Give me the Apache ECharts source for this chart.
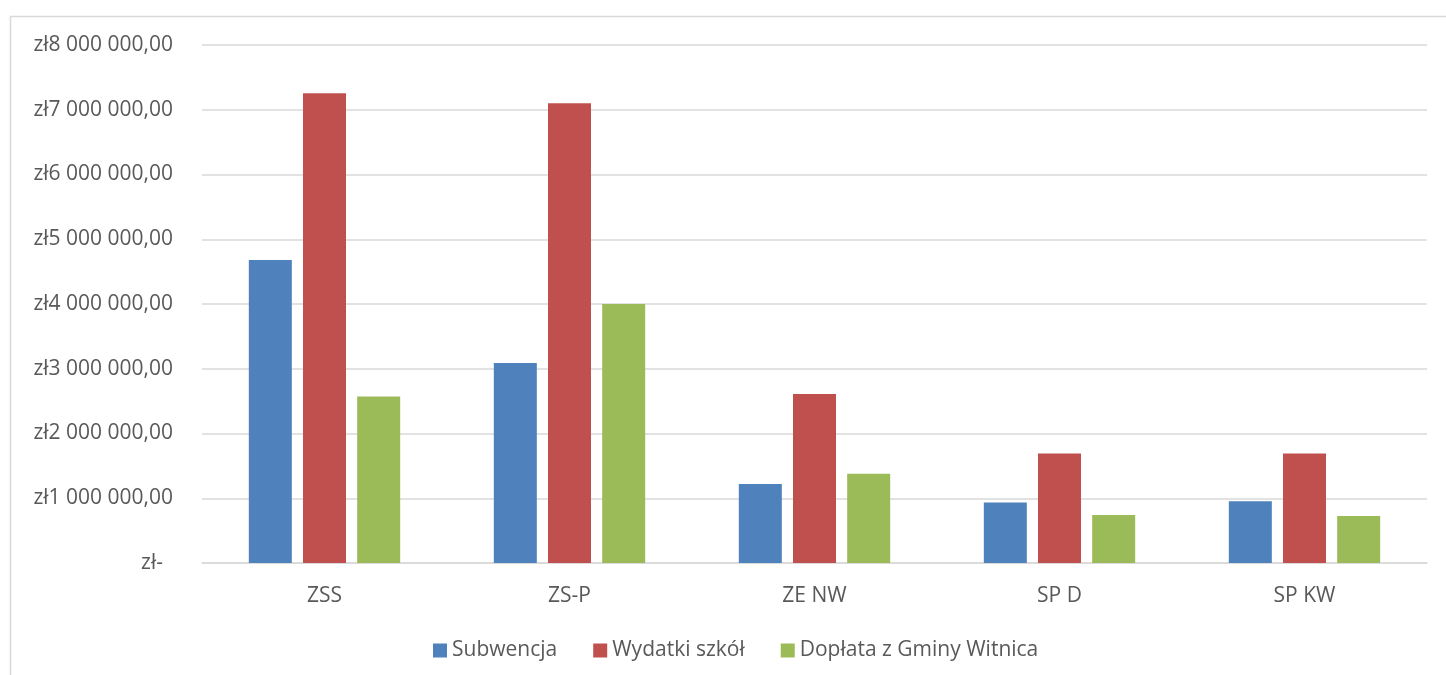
<!DOCTYPE html>
<html>
<head>
<meta charset="utf-8">
<script src="https://cdn.jsdelivr.net/npm/echarts@6/dist/echarts.min.js"></script>
<style>
  html, body { margin: 0; padding: 0; background: #fff; }
  #chart { width: 1446px; height: 675px; }
</style>
</head>
<body>
<div id="chart"></div>
<script>
// szkoły
var categories = ['ZSS', 'ZS-P', 'ZE NW', 'SP D', 'SP KW']
// wartości w zł
var subwencja = [4680000, 3090000, 1220000, 935000, 955000]
var wydatki = [7255000, 7100000, 2610000, 1690000, 1690000]
var doplata = [2570000, 4000000, 1380000, 740000, 725000]
var yTicks = [0, 1000000, 2000000, 3000000, 4000000, 5000000, 6000000, 7000000, 8000000]

var font = 'Open Sans'
var textColor = '#595959'

function zl (v) {
  if (v === 0) return '{z|zł-}'
  var s = String(Math.round(v)).replace(/\B(?=(\d{3})+(?!\d))/g, ' ')
  return 'zł' + s + ',00'
}

var chart = echarts.init(document.getElementById('chart'))
chart.setOption({
  animation: false,
  textStyle: { fontFamily: font },
  graphic: [{
    type: 'rect',
    shape: { x: 10.5, y: 16.5, width: 1460, height: 700 },
    style: { fill: 'none', stroke: '#d9d9d9', lineWidth: 1.5 },
    silent: true
  }],
  grid: { left: 202, right: 19, top: 45, bottom: 112 },
  legend: {
    left: 433,
    top: 640,
    padding: 0,
    itemWidth: 14,
    itemHeight: 14,
    itemGap: 36,
    icon: 'rect',
    textStyle: { fontFamily: font, fontSize: 21, color: textColor },
    data: ['Subwencja', 'Wydatki szkół', 'Dopłata z Gminy Witnica']
  },
  xAxis: {
    type: 'category',
    data: categories,
    axisLine: { show: true, lineStyle: { color: '#d9d9d9', width: 1.5 } },
    axisTick: { show: false },
    axisLabel: { margin: 23, fontFamily: font, fontSize: 21, color: textColor }
  },
  yAxis: {
    type: 'value',
    min: yTicks[0],
    max: yTicks[yTicks.length - 1],
    interval: yTicks[1] - yTicks[0],
    axisLine: { show: false },
    axisTick: { show: false },
    splitLine: { lineStyle: { color: '#d9d9d9', width: 1.5 } },
    axisLabel: {
      margin: 29,
      fontFamily: font,
      fontSize: 21,
      color: textColor,
      formatter: zl,
      rich: {
        z: { fontFamily: font, fontSize: 21, color: textColor, padding: [0, 10, 0, 0] }
      }
    }
  },
  series: [
    {
      name: 'Subwencja',
      type: 'bar',
      barWidth: 43,
      barGap: '26%',
      itemStyle: { color: '#4F81BD' },
      data: subwencja
    },
    {
      name: 'Wydatki szkół',
      type: 'bar',
      barWidth: 43,
      barGap: '26%',
      itemStyle: { color: '#C0504D' },
      data: wydatki
    },
    {
      name: 'Dopłata z Gminy Witnica',
      type: 'bar',
      barWidth: 43,
      barGap: '26%',
      itemStyle: { color: '#9BBB59' },
      data: doplata
    }
  ]
})
</script>
</body>
</html>
